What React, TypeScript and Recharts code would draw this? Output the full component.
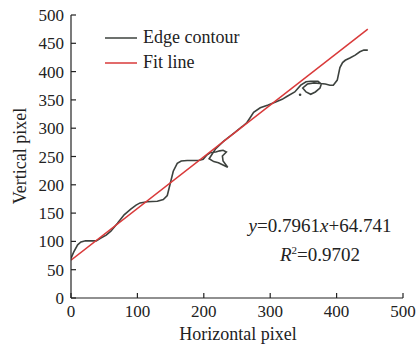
import { ComposedChart, Line, XAxis, YAxis, Scatter } from "recharts";

// edge contour, in drawing order (it loops back on itself)
const contour = [
  [0, 70], [4, 81], [10, 94], [15, 99], [22, 101], [30, 101], [38, 101], [45, 106],
  [53, 111], [60, 118], [70, 132], [80, 147], [90, 157], [98, 164], [104, 168],
  [115, 170], [130, 171], [139, 174], [145, 181], [149, 200], [154, 224], [160, 238],
  [166, 242], [175, 243], [185, 243], [192, 243], [199, 245], [205, 253], [210, 257],
  [218, 258], [224, 260], [229, 261], [234, 258], [228, 251], [229, 242], [236, 231],
  [229, 235], [222, 239], [215, 241], [208, 246], [218, 264], [230, 277], [245, 291],
  [258, 303], [265, 310], [270, 319], [275, 328], [285, 336], [297, 341], [310, 347],
  [318, 351], [325, 356], [337, 364], [346, 376], [354, 382], [361, 383], [372, 383],
  [377, 378], [375, 371], [368, 364], [361, 360], [354, 364], [349, 371], [356, 378],
  [366, 380], [383, 378], [390, 376], [395, 376], [401, 385], [405, 407], [409, 416],
  [413, 420], [420, 424], [428, 429], [435, 435], [441, 438], [447, 438],
];
const strayPoints = [[345, 359]];

const fitX = [0, 447];
const fitY = [67, 475];

const xTicks = [0, 100, 200, 300, 400, 500];
const yTicks = [0, 50, 100, 150, 200, 250, 300, 350, 400, 450, 500];

const legendItems = [
  { name: "Edge contour", color: "#3d423e" },
  { name: "Fit line", color: "#d93a3a" },
];

const contourData = contour.map(([x, y]) => ({ x, y }));
const strayData = strayPoints.map(([x, y]) => ({ x, y }));
const fitData = fitX.map((x, i) => ({ x, y: fitY[i] }));

const FONT = '"Liberation Serif", "Times New Roman", serif';
const INK = "#222";

const XTick = (props: any) => {
  const { x, y, payload } = props;
  return (
    <g>
      <line x1={x} x2={x} y1={y - 6} y2={y - 11} stroke={INK} strokeWidth={1.2} />
      <text x={x} y={y} dy={13} textAnchor="middle" fontFamily={FONT} fontSize={17} fill={INK}>
        {payload.value}
      </text>
    </g>
  );
};

const YTick = (props: any) => {
  const { x, y, payload } = props;
  return (
    <g>
      <line x1={x + 7} x2={x + 12} y1={y} y2={y} stroke={INK} strokeWidth={1.2} />
      <text x={x} y={y} dy={6} textAnchor="end" fontFamily={FONT} fontSize={17} fill={INK}>
        {payload.value}
      </text>
    </g>
  );
};

const textStyle = { position: "absolute" as const, fontFamily: FONT, color: INK, whiteSpace: "nowrap" as const };

export default function App() {
  return (
    <div style={{ position: "absolute", left: 0, top: 0, width: 418, height: 347, background: "#fff" }}>
      <ComposedChart width={418} height={347} margin={{ top: 15, right: 15, bottom: 0, left: 0 }}>
        <XAxis
          type="number"
          dataKey="x"
          domain={[0, 500]}
          ticks={xTicks}
          interval={0}
          height={49}
          tickSize={0}
          tickMargin={6}
          tick={<XTick />}
          axisLine={{ stroke: INK, strokeWidth: 1.2 }}
          allowDataOverflow
        />
        <YAxis
          type="number"
          dataKey="y"
          domain={[0, 500]}
          ticks={yTicks}
          interval={0}
          width={71}
          tickSize={0}
          tickMargin={7}
          tick={<YTick />}
          axisLine={{ stroke: INK, strokeWidth: 1.2 }}
          allowDataOverflow
        />
        <Line
          data={contourData}
          dataKey="y"
          name="Edge contour"
          type="linear"
          stroke={legendItems[0].color}
          strokeWidth={1.6}
          dot={false}
          isAnimationActive={false}
        />
        <Line
          data={fitData}
          dataKey="y"
          name="Fit line"
          type="linear"
          stroke={legendItems[1].color}
          strokeWidth={1.5}
          dot={false}
          isAnimationActive={false}
        />
        <Scatter
          data={strayData}
          dataKey="y"
          shape={(p: any) => <circle cx={p.cx} cy={p.cy} r={1.3} fill="#3d423e" />}
          isAnimationActive={false}
        />
      </ComposedChart>
      <div style={{ ...textStyle, left: 105, top: 25, fontSize: 18 }}>
        {legendItems.map((it) => (
          <div key={it.name} style={{ display: "flex", alignItems: "center", height: 25 }}>
            <svg width={38} height={4}>
              <line x1={0} x2={32} y1={2} y2={2} stroke={it.color} strokeWidth={1.5} />
            </svg>
            <span>{it.name}</span>
          </div>
        ))}
      </div>
      <div style={{ ...textStyle, left: 238, top: 334, transform: "translate(-50%, -50%)", fontSize: 18 }}>
        Horizontal pixel
      </div>
      <div
        style={{ ...textStyle, left: 20, top: 156, transform: "translate(-50%, -50%) rotate(-90deg)", fontSize: 18 }}
      >
        Vertical pixel
      </div>
      <div
        style={{
          ...textStyle,
          left: 320,
          top: 240,
          transform: "translate(-50%, -50%)",
          fontSize: 19,
          textAlign: "center",
          lineHeight: "24px",
        }}
      >
        <div>
          <i>y</i>=0.7961<i>x</i>+64.741
        </div>
        <div>
          <i>R</i>
          <sup style={{ fontSize: 11, verticalAlign: "7px" }}>2</sup>=0.9702
        </div>
      </div>
    </div>
  );
}
